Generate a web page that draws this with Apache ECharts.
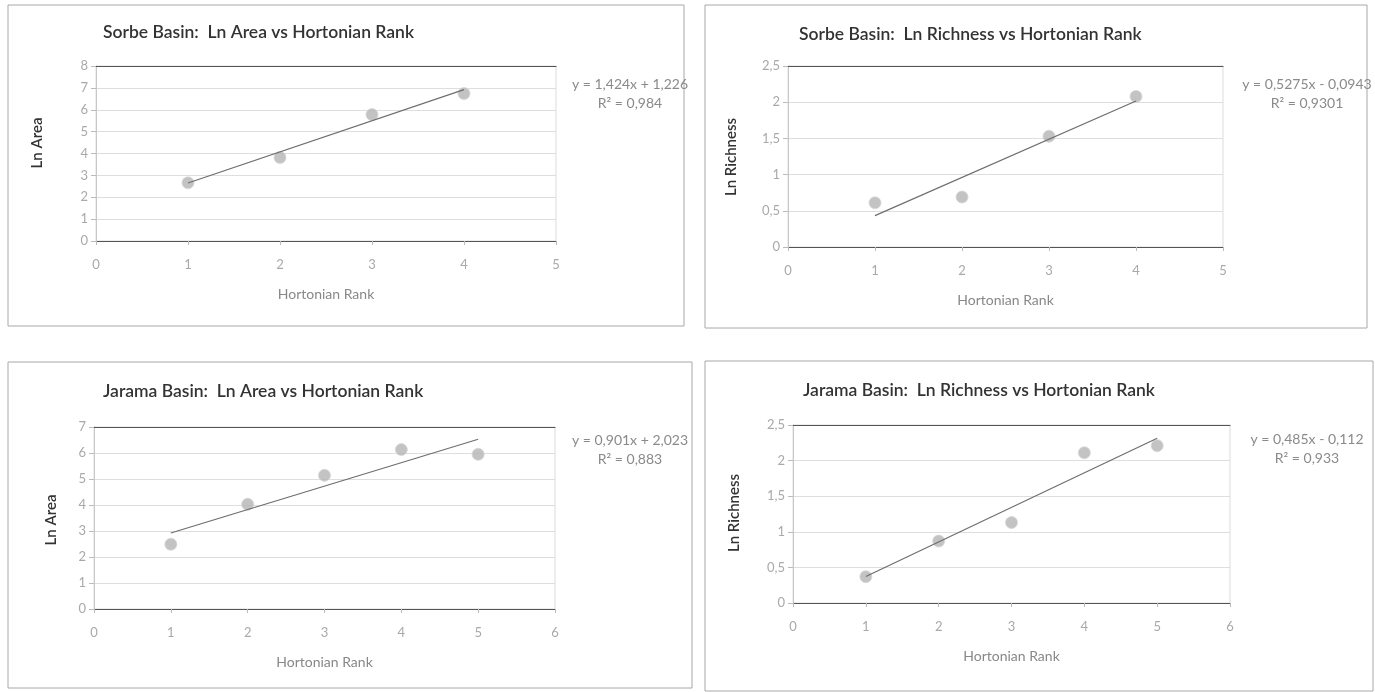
<!DOCTYPE html>
<html>
<head>
<meta charset="utf-8">
<script src="https://cdn.jsdelivr.net/npm/echarts@6/dist/echarts.min.js"></script>
<style>
  html, body { margin: 0; padding: 0; background: #ffffff; }
  #chart { width: 1375px; height: 692px; }
</style>
</head>
<body>
<div id="chart"></div>
<script>
// Stream order (Hortonian rank) against log area and log species richness
const sorbeRank = [1, 2, 3, 4];
const sorbeLnArea = [2.66, 3.82, 5.78, 6.74];
const sorbeLnRichness = [0.61, 0.69, 1.53, 2.08];

const jaramaRank = [1, 2, 3, 4, 5];
const jaramaLnArea = [2.49, 4.03, 5.14, 6.13, 5.95];
const jaramaLnRichness = [0.37, 0.87, 1.13, 2.11, 2.21];

// Linear trend lines: [slope, intercept]
const sorbeAreaFit = [1.424, 1.226];
const sorbeRichFit = [0.5275, -0.0943];
const jaramaAreaFit = [0.901, 2.023];
const jaramaRichFit = [0.485, -0.112];

const titles = [
  'Sorbe Basin:  Ln Area vs Hortonian Rank',
  'Sorbe Basin:  Ln Richness vs Hortonian Rank',
  'Jarama Basin:  Ln Area vs Hortonian Rank',
  'Jarama Basin:  Ln Richness vs Hortonian Rank'
];
const equations = [
  'y = 1,424x + 1,226',
  'y = 0,5275x - 0,0943',
  'y = 0,901x + 2,023',
  'y = 0,485x - 0,112'
];
const rSquared = ['R² = 0,984', 'R² = 0,9301', 'R² = 0,883', 'R² = 0,933'];
const xName = 'Hortonian Rank';
const yNames = ['Ln Area', 'Ln Richness', 'Ln Area', 'Ln Richness'];

const panels = [
  { x: sorbeRank, y: sorbeLnArea, fit: sorbeAreaFit, xMax: 5, yMax: 8, yStep: 1,
    grid: { left: 96, top: 66, width: 460, height: 175 },
    box: [8, 5, 676, 321], titlePos: [103, 23], eqPos: [630, 75], yNamePos: [37, 143] },
  { x: sorbeRank, y: sorbeLnRichness, fit: sorbeRichFit, xMax: 5, yMax: 2.5, yStep: 0.5,
    grid: { left: 788, top: 66, width: 435, height: 181 },
    box: [705, 5, 662, 323], titlePos: [799, 25], eqPos: [1307, 75], yNamePos: [731, 157] },
  { x: jaramaRank, y: jaramaLnArea, fit: jaramaAreaFit, xMax: 6, yMax: 7, yStep: 1,
    grid: { left: 94, top: 427, width: 461, height: 182 },
    box: [8, 362, 684, 326], titlePos: [103, 382], eqPos: [630, 431], yNamePos: [51, 520] },
  { x: jaramaRank, y: jaramaLnRichness, fit: jaramaRichFit, xMax: 6, yMax: 2.5, yStep: 0.5,
    grid: { left: 793, top: 425, width: 437, height: 178 },
    box: [705, 361, 668, 330], titlePos: [803, 381], eqPos: [1307, 430], yNamePos: [734, 513] }
];

const FONT = 'Lato, "Open Sans", sans-serif';
const grid = [], xAxis = [], yAxis = [], series = [], graphic = [];

panels.forEach((p, i) => {
  grid.push(Object.assign({ show: true, borderColor: '#dcdcdc', borderWidth: 1, containLabel: false }, p.grid));

  // bottom value axis
  xAxis.push({
    type: 'value', gridIndex: i, min: 0, max: p.xMax, interval: 1, position: 'bottom',
    axisLine: { show: true, onZero: false, lineStyle: { color: '#555', width: 1.2 } },
    axisTick: { show: true, inside: false, length: 4, lineStyle: { color: '#bbb' } },
    axisLabel: { color: '#a9a9a9', fontSize: 13, fontFamily: FONT, margin: 17 },
    splitLine: { show: false },
    name: xName, nameLocation: 'middle', nameGap: 46,
    nameTextStyle: { color: '#888', fontSize: 14, fontFamily: FONT }
  });
  // dark frame line along the top of the plot area
  xAxis.push({
    type: 'value', gridIndex: i, min: 0, max: p.xMax, interval: 1, position: 'top',
    axisLine: { show: true, onZero: false, lineStyle: { color: '#555', width: 1.2 } },
    axisTick: { show: false }, axisLabel: { show: false }, splitLine: { show: false }
  });

  yAxis.push({
    type: 'value', gridIndex: i, min: 0, max: p.yMax, interval: p.yStep,
    axisLine: { show: true, lineStyle: { color: '#c8c8c8' } },
    axisTick: { show: true, length: 5, lineStyle: { color: '#bbb' } },
    axisLabel: {
      color: '#a9a9a9', fontSize: 13, fontFamily: FONT, margin: 8,
      formatter: v => String(v).replace('.', ',')
    },
    splitLine: { show: true, lineStyle: { color: '#dedede', width: 1 } }
  });

  series.push({
    type: 'scatter', xAxisIndex: i * 2, yAxisIndex: i,
    data: p.x.map((v, k) => [v, p.y[k]]),
    symbol: 'circle', symbolSize: 12,
    itemStyle: { color: '#b4b4b4', borderColor: '#d6d6d6', borderWidth: 1 },
    z: 3
  });

  const x0 = Math.min(...p.x), x1 = Math.max(...p.x);
  series.push({
    type: 'line', xAxisIndex: i * 2, yAxisIndex: i,
    data: [[x0, p.fit[0] * x0 + p.fit[1]], [x1, p.fit[0] * x1 + p.fit[1]]],
    symbol: 'none', silent: true,
    lineStyle: { color: '#6e6e6e', width: 1.2 },
    z: 4
  });

  graphic.push({
    type: 'rect', silent: true, z: 0,
    shape: { x: p.box[0], y: p.box[1], width: p.box[2], height: p.box[3] },
    style: { fill: 'none', stroke: '#a8a8a8', lineWidth: 1 }
  });
  graphic.push({
    type: 'text', left: p.titlePos[0], top: p.titlePos[1],
    style: { text: titles[i], fill: '#333', font: '600 17.5px ' + FONT }
  });
  graphic.push({
    type: 'text', x: p.eqPos[0], y: p.eqPos[1],
    style: {
      text: equations[i] + '\n' + rSquared[i], fill: '#8a8a8a',
      font: '14px ' + FONT, align: 'center', lineHeight: 19
    }
  });
  graphic.push({
    type: 'text', x: p.yNamePos[0], y: p.yNamePos[1], rotation: Math.PI / 2,
    style: { text: yNames[i], fill: '#333', font: '600 15px ' + FONT, align: 'center', verticalAlign: 'middle' }
  });
});

const chart = echarts.init(document.getElementById('chart'), null, { renderer: 'canvas' });
chart.setOption({
  animation: false,
  backgroundColor: '#ffffff',
  grid, xAxis, yAxis, series, graphic
});
</script>
</body>
</html>
